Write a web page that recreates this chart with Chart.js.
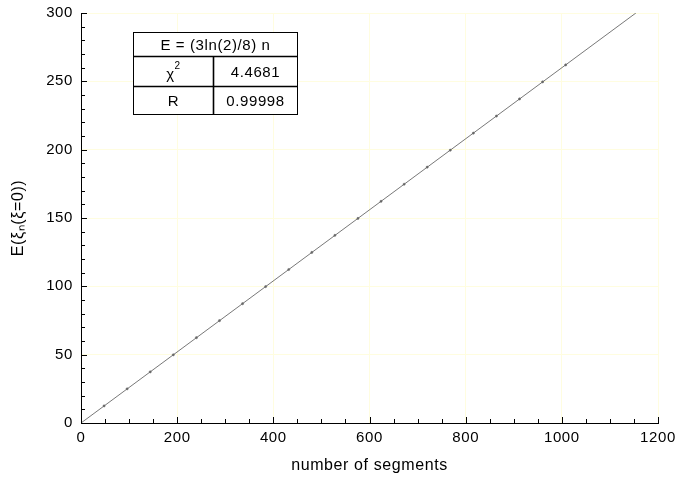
<!DOCTYPE html>
<html><head><meta charset="utf-8">
<script src="https://cdn.jsdelivr.net/npm/chart.js@4/dist/chart.umd.min.js"></script>
<style>html,body{margin:0;padding:0;background:#fff}#wrap{width:676px;height:479px}</style>
</head><body><div id="wrap"><canvas id="c" width="676" height="479"></canvas></div>
<script>
const segments = [48,96,144,192,240,288,336,384,432,480,528,576,624,672,720,768,816,864,912,960,1008];
const energies = [12.5,25.0,37.4,49.9,62.4,74.9,87.3,99.8,112.3,124.8,137.3,149.7,162.2,174.7,187.2,199.6,212.1,224.6,237.1,249.6,262.0];
const fitX = [0,1154];
const fitY = [0,300];
const xTicks = [0,200,400,600,800,1000,1200];
const yTicks = [0,50,100,150,200,250,300];
const tableTitle = 'E = (3ln(2)/8) n';
const tableLabels = ['χ','R'];
const tableValues = ['4.4681','0.99998'];

const FONT = '"Liberation Sans", Arial, sans-serif';
const GRID = '#fffde0';
const SPACING = '0.6px';

const spacing = {
  id:'spacing',
  beforeUpdate(chart){ chart.ctx.letterSpacing = SPACING; },
  beforeLayout(chart){ chart.ctx.letterSpacing = SPACING; },
  beforeDraw(chart){ chart.ctx.letterSpacing = SPACING; }
};

const inwardTicks = {
  id:'inwardTicks',
  afterDraw(chart){
    const ctx = chart.ctx, x = chart.scales.x, y = chart.scales.y;
    ctx.save();
    ctx.strokeStyle = '#000'; ctx.lineWidth = 1;
    ctx.beginPath();
    x.ticks.forEach(t=>{
      const px = Math.round(x.getPixelForValue(t.value))+0.5;
      const len = xTicks.includes(t.value) ? 6 : 4;
      ctx.moveTo(px, y.bottom); ctx.lineTo(px, y.bottom - len);
    });
    y.ticks.forEach(t=>{
      const py = Math.round(y.getPixelForValue(t.value))+0.5;
      const len = yTicks.includes(t.value) ? 6 : 4;
      ctx.moveTo(x.left, py); ctx.lineTo(x.left + len, py);
    });
    ctx.stroke();
    // table annotation
    const L=133.5, R=297.5, T=32.5, B=114.5, r1=56.5, r2=86.5, cm=213.5;
    ctx.fillStyle='#fff';
    ctx.fillRect(L,T,R-L,B-T);
    ctx.lineWidth=1;
    ctx.strokeRect(L,T,R-L,B-T);
    ctx.lineWidth=1.6;
    ctx.beginPath();
    ctx.moveTo(L,r1); ctx.lineTo(R,r1);
    ctx.moveTo(L,r2); ctx.lineTo(R,r2);
    ctx.moveTo(cm,r1); ctx.lineTo(cm,B);
    ctx.stroke();
    ctx.fillStyle='#000';
    ctx.letterSpacing = SPACING;
    ctx.font='15px '+FONT;
    ctx.textAlign='center'; ctx.textBaseline='middle';
    ctx.fillText(tableTitle,(L+R)/2,(T+r1)/2+1);
    ctx.fillText(tableLabels[0],(L+cm)/2-3,(r1+r2)/2+3);
    ctx.font='10px '+FONT;
    ctx.fillText('2',(L+cm)/2+4,(r1+r2)/2-5);
    ctx.font='15px '+FONT;
    ctx.fillText(tableLabels[1],(L+cm)/2,(r2+B)/2+1);
    ctx.fillText(tableValues[0],(cm+R)/2,(r1+r2)/2+1);
    ctx.fillText(tableValues[1],(cm+R)/2,(r2+B)/2+1);
    ctx.restore();
  }
};

new Chart(document.getElementById('c'),{
  type:'scatter',
  data:{datasets:[
    {type:'line',data:fitX.map((v,i)=>({x:v,y:fitY[i]})),borderColor:'#555',borderWidth:0.8,pointRadius:0,fill:false,order:2},
    {data:segments.map((v,i)=>({x:v,y:energies[i]})),pointStyle:'circle',pointRadius:1.1,backgroundColor:'#666',borderColor:'#666',borderWidth:0.5,order:1}
  ]},
  options:{
    responsive:false,animation:false,
    layout:{padding:{left:0,right:18,top:13,bottom:0}},
    plugins:{legend:{display:false},tooltip:{enabled:false}},
    scales:{
      x:{type:'linear',min:0,max:1200,
        afterFit(s){s.height=56;s.paddingLeft=0;s.paddingRight=0;},
        ticks:{stepSize:50,autoSkip:false,maxRotation:0,padding:6,color:'#000',font:{family:FONT,size:15},
          callback:v=>xTicks.includes(v)?String(v):''},
        grid:{drawTicks:false,color:c=>(c.tick&&xTicks.includes(c.tick.value)&&c.tick.value!==0)?GRID:'rgba(0,0,0,0)',lineWidth:1},
        border:{display:true,color:'#000',width:1},
        title:{display:true,text:'number of segments',color:'#000',font:{family:FONT,size:16},padding:{top:0,bottom:4}}
      },
      y:{type:'linear',min:0,max:300,
        afterFit(s){s.width=81;s.paddingTop=0;s.paddingBottom=0;},
        ticks:{stepSize:10,autoSkip:false,padding:8,color:'#000',font:{family:FONT,size:15},
          callback:v=>yTicks.includes(v)?String(v):''},
        grid:{drawTicks:false,color:c=>(c.tick&&yTicks.includes(c.tick.value)&&c.tick.value!==0)?GRID:'rgba(0,0,0,0)',lineWidth:1},
        border:{display:true,color:'#000',width:1},
        title:{display:true,text:'E(ξₙ(ξ=0))',color:'#000',font:{family:FONT,size:16},padding:{top:9,bottom:0}}
      }
    }
  },
  plugins:[spacing,inwardTicks]
});
</script></body></html>
